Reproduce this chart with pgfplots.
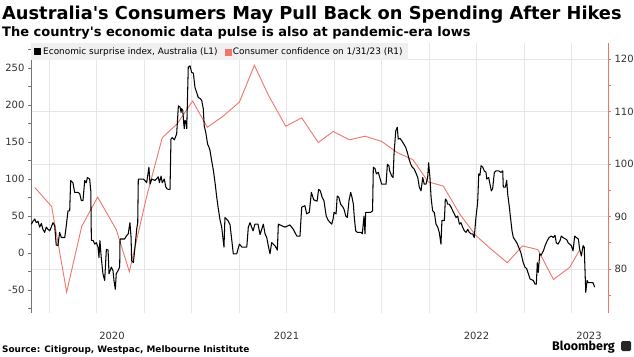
\documentclass[border=0pt]{standalone}
\usepackage{pgfplots}
\pgfplotsset{compat=1.18}
\usepackage{fontspec}
\setmainfont{DejaVu Sans}[Ligatures=TeXOff]
\newfontfamily\bbfont{Fira Sans}[Ligatures=TeXOff]
\definecolor{cc}{HTML}{F0766C}
\definecolor{gridc}{HTML}{E6E6E6}
\definecolor{legbg}{HTML}{F0F0F0}
\begin{document}
\begin{tikzpicture}
\useasboundingbox (0pt,0pt) rectangle (634pt,356pt);
\fill[white] (0pt,0pt) rectangle (634pt,356pt);
\node[anchor=base west, inner sep=0, font=\fontsize{17.8}{20}\selectfont\bfseries] at (2pt,336pt) {Australia's Consumers May Pull Back on Spending After Hikes};
\node[anchor=base west, inner sep=0, font=\fontsize{13}{15}\selectfont\bfseries] at (2pt,319.5pt) {The country's economic data pulse is also at pandemic-era lows};
\node[anchor=base west, inner sep=0, font=\fontsize{8.9}{11}\selectfont\bfseries] at (2pt,4pt) {Source: Citigroup, Westpac, Melbourne Inistitute};
\node[anchor=base east, inner sep=0, font=\bbfont\fontsize{12.5}{14}\selectfont\bfseries] at (615pt,5.5pt) {Bloomberg};
\fill[black!85, rounded corners=1.5pt] (621pt,5pt) rectangle (631pt,15pt);

% right axis (consumer confidence) with grids
\begin{axis}[at={(31pt,43pt)}, anchor=south west, scale only axis,
  width=577pt, height=270pt,
  xmin=2020.1553, xmax=2023.1921, ymin=71.62, ymax=123.05,
  axis y line*=right, axis x line*=bottom,
  x axis line style={draw=none},
  y axis line style={cc, line width=0.8pt},
  ytick={80,90,100,110,120}, minor ytick={75,85,95,105,115},
  ymajorgrids, major grid style={gridc, line width=0.6pt},
  xtick={2020.5816,2021.5,2022.5,2023.092},
  xticklabels={2020,2021,2022,2023},
  minor xtick={2020.25,2020.5,2020.75,2021,2021.25,2021.5,2021.75,2022,2022.25,2022.5,2022.75,2023},
  xminorgrids, minor grid style={gridc, line width=0.6pt},
  xtick style={draw=none}, minor x tick style={draw=none},
  ytick style={cc, line width=0.6pt}, minor y tick style={cc, line width=0.6pt},
  tick align=outside, major tick length=3pt, minor tick length=3pt,
  tick label style={font=\fontsize{10}{12}\selectfont, text=black!80},
  xticklabel style={yshift=-13pt},
  /pgf/number format/assume math mode=true,
  clip=false]
\addplot[cc, line width=0.9pt] coordinates {
(2020.176,95.5) (2020.264,91.9) (2020.343,75.6) (2020.422,88.1) (2020.506,93.7)
(2020.604,87.5) (2020.673,79.5) (2020.764,93.8) (2020.846,105.0) (2020.926,107.7)
(2021.006,112.0) (2021.083,107.0) (2021.166,109.1) (2021.252,111.8) (2021.331,118.8)
(2021.405,113.1) (2021.496,107.2) (2021.580,108.8) (2021.667,104.1) (2021.746,106.2)
(2021.831,104.6) (2021.913,105.3) (2022.001,104.3) (2022.082,102.2) (2022.166,100.8)
(2022.246,96.6) (2022.325,95.8) (2022.413,90.4) (2022.496,86.4) (2022.576,83.8)
(2022.662,81.2) (2022.742,84.4) (2022.823,83.7) (2022.905,78.0) (2022.990,80.3)
(2023.041,83.5)};
\end{axis}

% left axis (economic surprise index)
\begin{axis}[at={(31pt,43pt)}, anchor=south west, scale only axis,
  width=577pt, height=270pt,
  xmin=2020.1553, xmax=2023.1921, ymin=-81, ymax=283.8,
  axis y line*=left, axis x line=none,
  y axis line style={black!55, line width=0.6pt},
  ytick={-50,0,50,100,150,200,250}, minor ytick={-75,-25,25,75,125,175,225,275},
  ytick style={black!55, line width=0.6pt}, minor y tick style={black!55, line width=0.6pt},
  tick align=outside, major tick length=3pt, minor tick length=3pt,
  tick label style={font=\fontsize{10}{12}\selectfont, text=black!80},
  /pgf/number format/assume math mode=true,
  legend style={at={(0,1)}, anchor=north west, fill=legbg, draw=none,
    font=\fontsize{8.9}{10}\selectfont, inner xsep=3pt, inner ysep=2.5pt,
    /tikz/every even column/.append style={column sep=5pt}},
  legend columns=2, legend cell align=left,
  legend image code/.code={\fill[#1] (0pt,-3pt) rectangle (6pt,3pt);},
  clip=false]
\addplot[black, line width=1.05pt, line join=round] coordinates {
(2020.157,39) (2020.166,43) (2020.175,46) (2020.183,41) (2020.192,43) (2020.201,35)
(2020.210,40) (2020.218,32) (2020.227,28) (2020.236,35) (2020.245,32) (2020.254,30)
(2020.262,35) (2020.271,41) (2020.280,37) (2020.288,11) (2020.297,10) (2020.306,28)
(2020.315,21) (2020.333,21) (2020.341,37) (2020.350,57) (2020.359,57) (2020.364,98)
(2020.376,95) (2020.385,82) (2020.403,82) (2020.412,80) (2020.420,71) (2020.429,71)
(2020.438,98) (2020.446,95) (2020.452,102) (2020.464,100) (2020.470,84) (2020.473,17)
(2020.482,17) (2020.491,12) (2020.499,14) (2020.508,8) (2020.513,-6) (2020.518,17)
(2020.525,-6) (2020.534,-28) (2020.543,-37) (2020.552,5) (2020.561,4) (2020.566,-28)
(2020.578,-19) (2020.587,-24) (2020.592,-37) (2020.599,-49) (2020.604,-28) (2020.613,-24)
(2020.622,-19) (2020.624,19) (2020.631,19) (2020.648,19) (2020.657,23) (2020.667,26)
(2020.676,41) (2020.682,21) (2020.685,-10) (2020.694,-13) (2020.699,-1) (2020.706,17)
(2020.712,33) (2020.717,41) (2020.720,100) (2020.729,100) (2020.746,100) (2020.755,98)
(2020.764,95) (2020.771,107) (2020.776,116) (2020.782,93) (2020.791,100) (2020.808,98)
(2020.825,103) (2020.831,95) (2020.840,104) (2020.846,95) (2020.857,100) (2020.864,90)
(2020.870,87) (2020.878,86) (2020.887,86) (2020.892,154) (2020.899,156) (2020.910,153)
(2020.922,161) (2020.931,199) (2020.940,197) (2020.945,190) (2020.948,195) (2020.954,193)
(2020.959,176) (2020.962,168) (2020.966,179) (2020.971,178) (2020.975,168) (2020.983,251)
(2020.992,253) (2021.001,244) (2021.010,243) (2021.018,224) (2021.027,217) (2021.036,210)
(2021.045,209) (2021.054,206) (2021.062,195) (2021.067,172) (2021.075,163) (2021.085,147)
(2021.092,143) (2021.097,139) (2021.106,125) (2021.115,112) (2021.124,95) (2021.133,75)
(2021.141,60) (2021.150,45) (2021.159,35) (2021.171,8) (2021.176,48) (2021.192,44)
(2021.203,38) (2021.220,-1) (2021.238,-1) (2021.252,12) (2021.266,8) (2021.291,8)
(2021.299,35) (2021.308,41) (2021.324,30) (2021.334,39) (2021.350,39) (2021.361,25)
(2021.378,39) (2021.387,26) (2021.396,21) (2021.404,10) (2021.413,-1) (2021.422,14)
(2021.439,10) (2021.452,4) (2021.457,39) (2021.492,35) (2021.518,38) (2021.536,32)
(2021.554,23) (2021.571,23) (2021.580,62) (2021.597,64) (2021.606,53) (2021.620,55)
(2021.631,82) (2021.643,72) (2021.661,70) (2021.669,86) (2021.678,84) (2021.688,75)
(2021.697,71) (2021.709,50) (2021.720,44) (2021.738,39) (2021.746,47) (2021.750,55)
(2021.761,53) (2021.767,77) (2021.776,75) (2021.785,66) (2021.797,62) (2021.803,59)
(2021.812,50) (2021.820,48) (2021.829,71) (2021.838,82) (2021.845,75) (2021.852,66)
(2021.857,48) (2021.864,30) (2021.873,28) (2021.892,28) (2021.899,26) (2021.908,50)
(2021.913,26) (2021.917,55) (2021.943,55) (2021.953,57) (2021.957,116) (2021.966,114)
(2021.973,107) (2021.983,109) (2021.991,102) (2022.001,93) (2022.024,93) (2022.031,120)
(2022.039,118) (2022.043,111) (2022.054,104) (2022.061,102) (2022.066,134) (2022.075,165)
(2022.083,170) (2022.088,154) (2022.097,155) (2022.106,152) (2022.118,147) (2022.127,143)
(2022.136,136) (2022.145,127) (2022.154,120) (2022.162,116) (2022.171,114) (2022.180,109)
(2022.191,102) (2022.199,89) (2022.208,84) (2022.217,102) (2022.225,93) (2022.234,93)
(2022.243,102) (2022.248,122) (2022.255,102) (2022.261,75) (2022.269,57) (2022.278,55)
(2022.287,39) (2022.296,35) (2022.304,28) (2022.313,12) (2022.318,44) (2022.331,44)
(2022.336,73) (2022.343,71) (2022.348,66) (2022.357,66) (2022.366,62) (2022.375,57)
(2022.383,53) (2022.392,48) (2022.401,50) (2022.410,39) (2022.418,41) (2022.427,35)
(2022.436,30) (2022.445,28) (2022.454,32) (2022.462,28) (2022.471,26) (2022.480,26)
(2022.488,21) (2022.497,48) (2022.506,68) (2022.512,107) (2022.518,105) (2022.524,118)
(2022.533,116) (2022.541,111) (2022.550,109) (2022.554,100) (2022.564,102) (2022.571,93)
(2022.578,84) (2022.585,87) (2022.594,109) (2022.603,111) (2022.617,111) (2022.629,109)
(2022.638,111) (2022.641,89) (2022.652,89) (2022.659,98) (2022.664,80) (2022.673,62)
(2022.678,50) (2022.687,30) (2022.694,21) (2022.712,14) (2022.733,1) (2022.746,-13)
(2022.755,-19) (2022.764,-21) (2022.782,-35) (2022.799,-37) (2022.808,-42) (2022.815,-42)
(2022.820,-13) (2022.825,-26) (2022.833,-1) (2022.840,-3) (2022.852,3) (2022.861,10)
(2022.873,17) (2022.882,21) (2022.894,23) (2022.904,21) (2022.913,24) (2022.920,14)
(2022.929,12) (2022.940,17) (2022.946,23) (2022.955,21) (2022.975,18) (2022.982,14)
(2022.999,10) (2023.008,3) (2023.017,23) (2023.025,21) (2023.036,19) (2023.043,5)
(2023.052,-4) (2023.061,10) (2023.067,8) (2023.075,-53) (2023.082,-37) (2023.088,-40)
(2023.113,-40) (2023.122,-46)};
\addlegendentry{Economic surprise index, Australia (L1)}
\addlegendimage{color=cc}
\addlegendentry{Consumer confidence on 1/31/23 (R1)}
\end{axis}
\end{tikzpicture}
\end{document}
